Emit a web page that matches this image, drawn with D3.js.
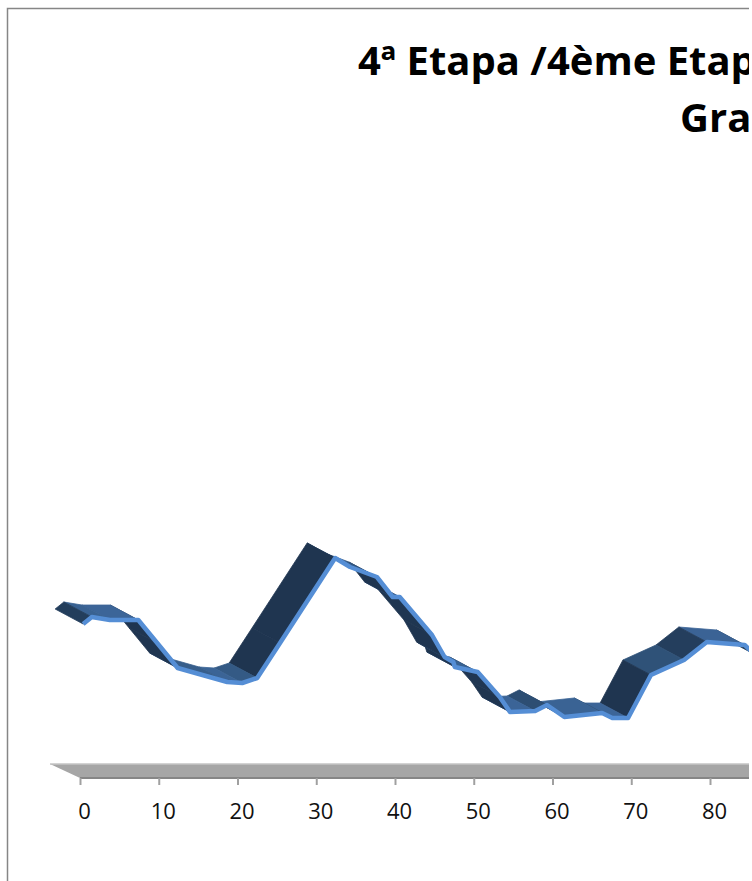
<!DOCTYPE html>
<html><head><meta charset="utf-8">
<script src="https://cdn.jsdelivr.net/npm/d3@7"></script>
<style>html,body{margin:0;padding:0;background:#fff}svg{display:block}</style>
</head><body><div id="chart"></div>
<script>
const titleLines = ["4ª Etapa /4ème Etap", "Gra"];
const tickValues = [0,10,20,30,40,50,60,70,80];
const distances = [0.4,1.5,3.8,7.4,9.8,12.4,18.7,20.6,22.5,25.4,32.4,34.3,37.7,39.7,40.6,44.7,46.3,47.4,47.6,50.5,53.3,54.6,57.8,59.3,61.5,66.3,67.6,69.6,72.5,76.7,79.6,84.4,85.8];
const altitudes = [308,322,316,316,270,220,192,190,200,270,440,422,402,362,362,286,242,232,222,212,162,132,134,146,122,130,120,120,206,236,272,266,246];

const W = 749, H = 881;
const svg = d3.select("#chart").append("svg").attr("width", 752).attr("height", H);
const clip = svg.append("defs").append("clipPath").attr("id","c");
clip.append("rect").attr("x",0).attr("y",0).attr("width",W).attr("height",H);
const g = svg.append("g").attr("clip-path","url(#c)");

const x = d3.scaleLinear().domain([0,80]).range([80,710]);
const y = d3.scaleLinear().domain([0,400]).range([778,578]);
const depthX = 28, depthY = 15;
const pts = distances.map((d,i)=>({x:x(d), y:y(altitudes[i])}));

// chart frame
g.append("path").attr("d",`M7.5,${H}V8.5H${W}`).attr("fill","none").attr("stroke","#868686").attr("stroke-width",1.5);

// floor
const fr = x(90);
g.append("path").attr("d",`M${x(0)-30},${y(0)-14}L${fr},${y(0)-14}L${fr},${y(0)}L${x(0)},${y(0)}Z`).attr("fill","#a6a6a6");
g.append("path").attr("d",`M${x(0)-30},${y(0)-14}H${fr}`).attr("stroke","#c4c4c4").attr("stroke-width",1.5).attr("fill","none");
g.append("path").attr("d",`M${x(0)},${y(0)}H${fr}`).attr("stroke","#868686").attr("stroke-width",2).attr("fill","none");

// axis
const axis = d3.axisBottom(x).tickValues(tickValues).tickSize(7).tickSizeOuter(0).tickFormat(d3.format("d"));
const ax = g.append("g").attr("transform",`translate(0,${y(0)})`).call(axis);
ax.select(".domain").remove();
ax.selectAll("line").attr("stroke","#a0a0a0").attr("stroke-width",2);
ax.selectAll("text").attr("dx",4).attr("y",25).attr("fill","#111")
  .attr("font-family","'Open Sans'").attr("font-size",22);

// ribbon
const shade = d3.scaleLinear().domain([0,0.25,0.45,0.75,1.2])
  .range(["#3c6598","#38608f","#2f5278","#243f5e","#1f3550"]).clamp(true);
const segs = d3.range(pts.length-1).map(i=>({a:pts[i],b:pts[i+1]})).reverse();
g.append("g").selectAll("path").data(segs).join("path")
  .attr("d",s=>`M${s.a.x},${s.a.y}L${s.b.x},${s.b.y}L${s.b.x-depthX},${s.b.y-depthY}L${s.a.x-depthX},${s.a.y-depthY}Z`)
  .attr("fill",s=>shade(Math.abs((s.b.y-s.a.y)/(s.b.x-s.a.x))))
  .attr("stroke",s=>shade(Math.abs((s.b.y-s.a.y)/(s.b.x-s.a.x)))).attr("stroke-width",0.8);

// front edge
const line = d3.line().x(d=>d.x).y(d=>d.y);
g.append("path").attr("d",line(pts)).attr("fill","none").attr("stroke","#558ed5").attr("stroke-width",4.5).attr("stroke-linejoin","round");

// title
g.append("text").attr("x",358).attr("y",75).text(titleLines[0]).attr("font-family","'Open Sans'").attr("font-weight",700).attr("font-size",40).attr("fill","#000");
g.append("text").attr("x",680).attr("y",132).text(titleLines[1]).attr("font-family","'Open Sans'").attr("font-weight",700).attr("font-size",40).attr("fill","#000");
</script></body></html>
